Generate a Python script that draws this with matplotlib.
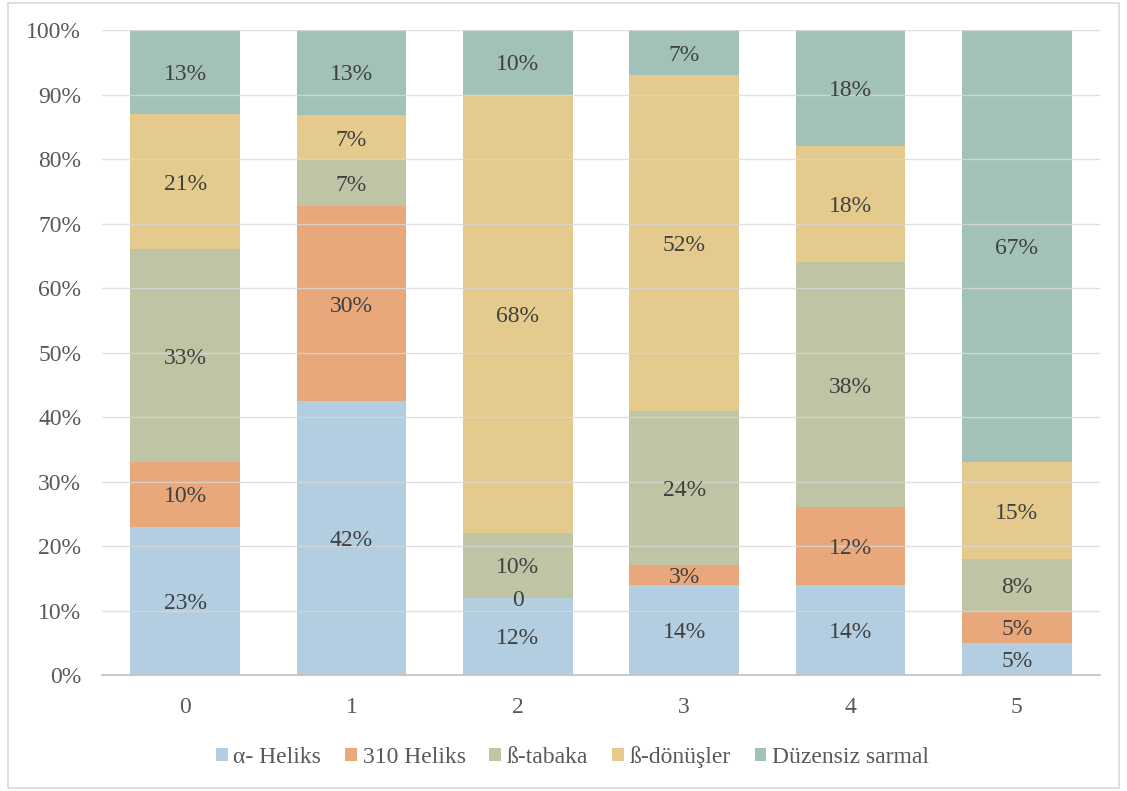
import matplotlib
matplotlib.use("Agg")
import matplotlib.pyplot as plt
from matplotlib.patches import Rectangle
import numpy as np

plt.rcParams['font.family'] = ['Liberation Serif', 'DejaVu Serif']

categories = ["0", "1", "2", "3", "4", "5"]
series_names = ["α- Heliks", "310 Heliks", "ß-tabaka", "ß-dönüşler", "Düzensiz sarmal"]
alpha_heliks = [23, 42, 12, 14, 14, 5]
heliks_310 = [10, 30, 0, 3, 12, 5]
beta_tabaka = [33, 7, 10, 24, 38, 8]
beta_donusler = [21, 7, 68, 52, 18, 15]
duzensiz = [13, 13, 10, 7, 18, 67]
labels_310 = ["10%", "30%", "0", "3%", "12%", "5%"]
y_ticks = [0, 10, 20, 30, 40, 50, 60, 70, 80, 90, 100]

colors = ["#b3cde1", "#e9a77c", "#bfc4a5", "#e4ca8c", "#a2c1b9"]
series = [alpha_heliks, heliks_310, beta_tabaka, beta_donusler, duzensiz]

fig = plt.figure(figsize=(11.27, 7.91), dpi=100)
ax = fig.add_axes([0.0905, 0.1466, 0.8855, 0.8154])

data = np.array(series, dtype=float)
totals = data.sum(axis=0)
pct = data / totals * 100
x = np.arange(len(categories))
bottom = np.zeros(len(categories))
txtcol = "#404040"
fs = 17
for i, name in enumerate(series_names):
    ax.bar(x, pct[i], 0.66, bottom=bottom, color=colors[i], label=name, zorder=2)
    for j in range(len(categories)):
        if i == 1:
            lab = labels_310[j]
        else:
            lab = f"{series[i][j]:g}%"
        ax.text(x[j], bottom[j] + pct[i][j] / 2, lab, ha="center", va="center_baseline",
                fontsize=fs, color=txtcol, zorder=4)
    bottom += pct[i]

ax.set_xlim(-0.5, len(categories) - 0.5)
ax.set_ylim(0, 100)
ax.set_yticks(y_ticks)
ax.set_yticklabels([f"{v}%" for v in y_ticks])
ax.set_xticks(x)
ax.set_xticklabels(categories)
ax.tick_params(axis="both", length=0, labelsize=fs, labelcolor="#595959")
ax.tick_params(axis="x", pad=16)
ax.tick_params(axis="y", pad=15)
ax.yaxis.grid(True, color="#d9d9d9", linewidth=1, alpha=0.8, zorder=3)
ax.set_axisbelow(False)
for s in ["top", "right", "left"]:
    ax.spines[s].set_visible(False)
ax.spines["bottom"].set_color("#bfbfbf")
ax.spines["bottom"].set_linewidth(1.2)

leg = fig.legend(loc="center", bbox_to_anchor=(0.508, 0.043), ncol=5, frameon=False,
                 fontsize=fs, handlelength=0.5, handleheight=0.5, handletextpad=0.25,
                 columnspacing=1.0)
for t in leg.get_texts():
    t.set_color("#595959")

fig.patches.append(Rectangle((0.007, 0.004), 0.986, 0.992, transform=fig.transFigure,
                             fill=False, edgecolor="#d9d9d9", linewidth=1.2))

fig.savefig("out.png", dpi=100)
